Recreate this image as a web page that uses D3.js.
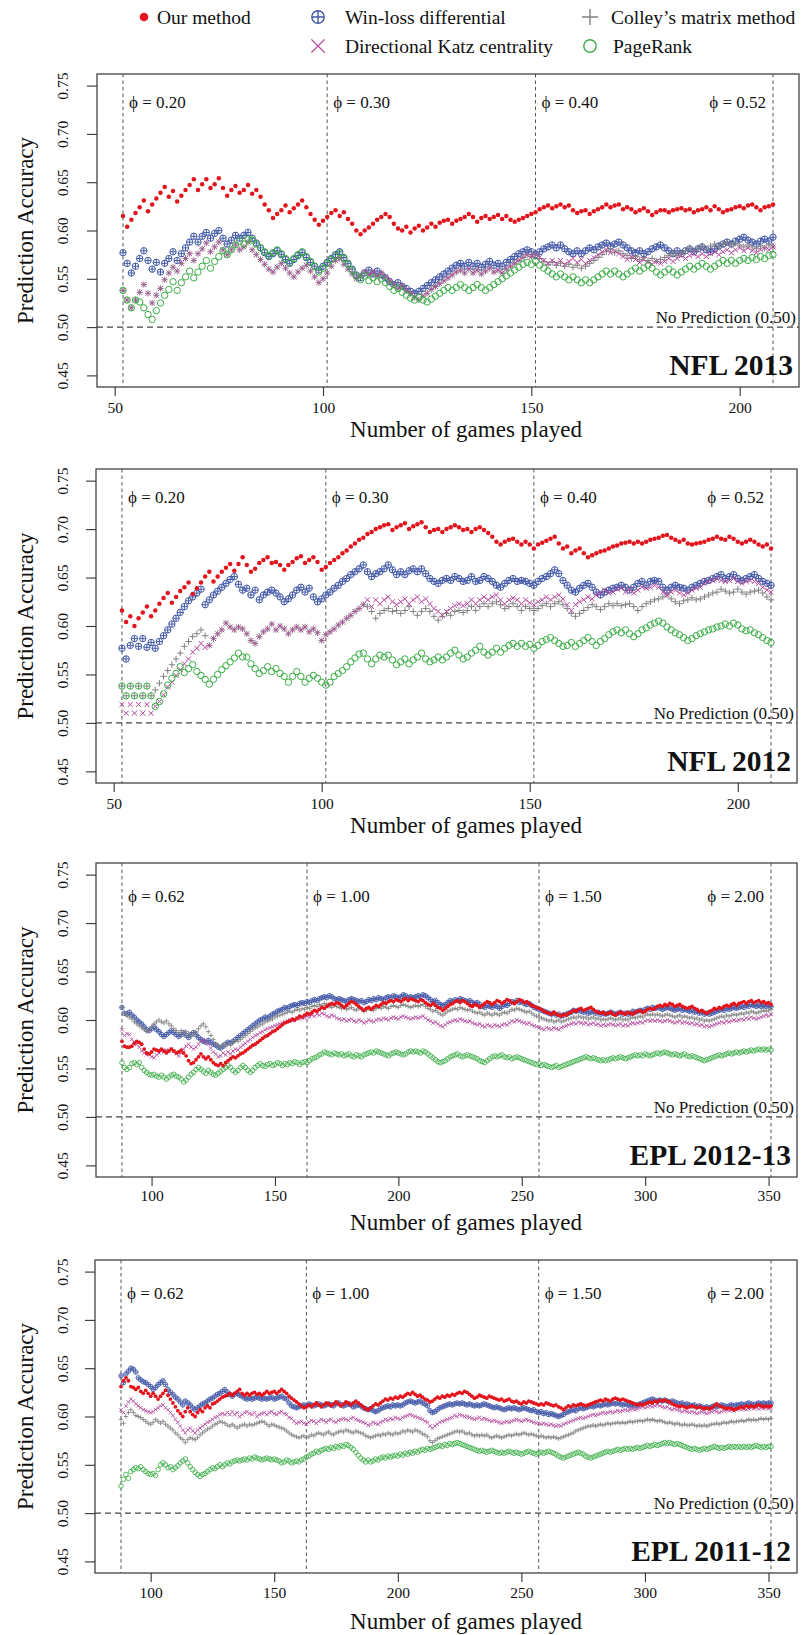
<!DOCTYPE html>
<html><head><meta charset="utf-8">
<script src="https://cdnjs.cloudflare.com/ajax/libs/d3/7.8.5/d3.min.js"></script>
<style>
body{margin:0;background:#fff}
svg{display:block}
text{font-family:"Liberation Serif","Times New Roman",Times,serif;fill:#111}
</style></head>
<body><svg id="c" width="805" height="1635"></svg>
<script>
// ---------- labels & ticks ----------
const methodNames = ["Our method","Win-loss differential","Colley\u2019s matrix method","Directional Katz centrality","PageRank"];
const yTickValues = [0.45,0.50,0.55,0.60,0.65,0.70,0.75];
const nflXTicks = [50,100,150,200];
const eplXTicks = [100,150,200,250,300,350];
const nflPhiGames = [52,101,151,208];
const nflPhiLabels = ["0.20","0.30","0.40","0.52"];
const eplPhiGames = [88,163,257,351];
const eplPhiLabels = ["0.62","1.00","1.50","2.00"];
const panelTitles = ["NFL 2013","NFL 2012","EPL 2012-13","EPL 2011-12"];
const nflFirstGame = 52, nflLastGame = 208;
const eplFirstGame = 88, eplLastGame = 351;

// ---------- NFL 2013 (games 52..208) ----------
const nfl13Our = [
.615,.604,.611,.618,.624,.631,.620,.627,.633,.639,
.645,.635,.641,.630,.636,.642,.647,.653,.642,.648,
.653,.644,.648,.654,.644,.636,.642,.646,.639,.642,
.647,.638,.642,.635,.627,.621,.613,.617,.621,.626,
.619,.623,.627,.631,.624,.617,.611,.606,.610,.614,
.618,.621,.615,.619,.612,.607,.600,.596,.600,.603,
.607,.611,.614,.617,.614,.607,.602,.600,.604,.598,
.602,.605,.600,.603,.607,.604,.608,.610,.611,.607,
.610,.612,.614,.617,.614,.609,.613,.615,.612,.614,
.616,.612,.615,.611,.609,.611,.613,.615,.617,.619,
.622,.624,.626,.623,.625,.627,.624,.626,.621,.618,
.620,.621,.617,.620,.622,.624,.627,.624,.626,.627,
.622,.624,.622,.619,.621,.623,.620,.616,.619,.621,
.621,.619,.621,.622,.623,.621,.622,.619,.621,.622,
.624,.621,.625,.622,.619,.621,.622,.624,.625,.623,
.626,.627,.624,.621,.624,.625,.627];
const nfl13WL = [
.577,.566,.556,.563,.571,.579,.569,.560,.567,.557,
.566,.571,.578,.569,.576,.582,.588,.594,.588,.594,
.598,.592,.597,.600,.592,.586,.590,.595,.592,.595,
.598,.592,.587,.582,.577,.573,.576,.579,.575,.570,
.566,.570,.574,.577,.572,.567,.563,.559,.563,.567,
.571,.575,.578,.572,.566,.560,.554,.551,.556,.559,
.555,.558,.554,.551,.547,.544,.546,.542,.540,.537,
.535,.537,.540,.543,.546,.549,.552,.555,.558,.561,
.564,.566,.563,.567,.563,.566,.562,.565,.568,.564,
.566,.563,.567,.570,.573,.576,.578,.580,.578,.575,
.578,.581,.583,.585,.582,.585,.581,.578,.576,.579,
.576,.579,.582,.580,.583,.585,.587,.584,.586,.588,
.585,.582,.579,.577,.579,.576,.578,.581,.583,.585,
.582,.579,.576,.579,.576,.579,.581,.578,.581,.583,
.580,.578,.581,.584,.586,.588,.586,.589,.591,.593,
.590,.588,.586,.589,.591,.589,.593];
const nfl13Colley = [
.538,.528,.520,.528,.536,.544,.535,.525,.533,.540,
.549,.556,.562,.558,.566,.571,.576,.569,.576,.581,
.587,.578,.583,.588,.580,.575,.580,.585,.580,.583,
.588,.580,.575,.570,.565,.560,.557,.562,.566,.561,
.556,.552,.557,.561,.564,.558,.552,.546,.550,.556,
.563,.569,.571,.565,.560,.555,.550,.553,.557,.554,
.557,.553,.556,.552,.548,.544,.540,.543,.538,.535,
.531,.528,.532,.535,.539,.542,.545,.548,.551,.554,
.557,.559,.556,.560,.556,.559,.555,.558,.561,.557,
.559,.556,.560,.563,.566,.569,.572,.575,.573,.575,
.571,.568,.565,.567,.564,.566,.563,.565,.562,.564,
.561,.563,.566,.569,.572,.575,.578,.580,.577,.579,
.576,.574,.571,.573,.570,.572,.569,.571,.568,.570,
.572,.574,.577,.574,.577,.579,.582,.579,.582,.584,
.581,.584,.586,.583,.586,.588,.585,.587,.585,.583,
.585,.583,.581,.584,.582,.585,.583];
const nfl13Katz = [
.538,.528,.520,.528,.536,.544,.535,.525,.533,.540,
.549,.556,.562,.558,.566,.571,.576,.569,.576,.581,
.587,.578,.583,.588,.580,.575,.580,.585,.580,.583,
.588,.580,.575,.570,.565,.560,.557,.562,.566,.561,
.556,.552,.557,.561,.564,.558,.552,.546,.550,.556,
.563,.569,.571,.565,.560,.555,.550,.553,.557,.554,
.557,.553,.556,.552,.548,.544,.540,.543,.538,.535,
.531,.528,.532,.535,.539,.542,.545,.548,.551,.554,
.557,.559,.556,.560,.556,.559,.555,.558,.561,.557,
.559,.556,.560,.563,.566,.569,.572,.575,.573,.575,
.572,.569,.566,.569,.566,.569,.565,.568,.571,.567,
.570,.566,.569,.572,.575,.578,.580,.577,.579,.576,
.573,.570,.573,.570,.567,.570,.567,.565,.568,.566,
.568,.571,.568,.571,.574,.571,.574,.576,.573,.576,
.573,.576,.578,.575,.578,.580,.577,.580,.582,.579,
.582,.579,.577,.580,.582,.580,.583];
const nfl13PR = [
.538,.528,.520,.528,.526,.520,.513,.508,.517,.525,
.533,.539,.547,.538,.546,.552,.558,.551,.557,.563,
.569,.561,.568,.573,.579,.575,.580,.585,.589,.586,
.591,.590,.586,.582,.578,.574,.577,.580,.576,.571,
.567,.571,.575,.578,.573,.568,.563,.557,.561,.566,
.570,.574,.577,.571,.565,.559,.553,.549,.553,.548,
.551,.547,.550,.546,.542,.538,.540,.536,.533,.530,
.528,.531,.528,.526,.529,.532,.535,.538,.541,.538,
.541,.544,.541,.538,.541,.544,.541,.538,.541,.544,
.547,.550,.553,.556,.559,.562,.565,.567,.565,.568,
.564,.561,.558,.555,.552,.555,.552,.549,.552,.549,
.546,.549,.546,.549,.552,.555,.558,.555,.558,.555,
.552,.555,.558,.561,.558,.561,.564,.561,.557,.554,
.557,.560,.557,.554,.557,.560,.563,.560,.563,.566,
.563,.560,.563,.566,.569,.566,.569,.566,.569,.571,
.569,.572,.570,.573,.571,.574,.575];

// ---------- NFL 2012 (games 52..208) ----------
const nfl12Our = [
.616,.604,.610,.600,.608,.614,.620,.610,.616,.623,
.629,.634,.624,.630,.636,.640,.645,.633,.639,.645,
.651,.656,.646,.651,.656,.660,.664,.657,.664,.671,
.663,.656,.659,.665,.668,.671,.665,.666,.663,.658,
.663,.666,.670,.672,.665,.668,.671,.666,.658,.661,
.665,.668,.671,.675,.678,.682,.685,.689,.691,.695,
.697,.700,.702,.704,.705,.699,.702,.704,.706,.700,
.703,.705,.707,.702,.697,.699,.700,.697,.700,.702,
.704,.702,.699,.700,.697,.700,.702,.699,.696,.692,
.687,.684,.687,.689,.690,.687,.684,.687,.684,.680,
.684,.686,.688,.690,.692,.685,.680,.682,.675,.678,
.680,.675,.671,.673,.675,.677,.678,.680,.682,.683,
.685,.686,.687,.685,.687,.685,.687,.689,.690,.691,
.693,.694,.691,.689,.687,.689,.685,.684,.685,.686,
.687,.689,.690,.692,.690,.689,.692,.690,.687,.685,
.687,.689,.687,.684,.682,.684,.680];
const nfl12WL = [
.577,.566,.580,.587,.579,.587,.578,.583,.577,.584,
.590,.596,.602,.608,.614,.620,.626,.630,.634,.638,
.622,.627,.632,.636,.640,.644,.648,.651,.643,.637,
.639,.632,.637,.627,.632,.635,.637,.634,.630,.625,
.628,.632,.637,.640,.635,.639,.630,.625,.628,.632,
.635,.639,.642,.646,.649,.653,.656,.659,.663,.656,
.651,.654,.656,.659,.663,.658,.653,.656,.653,.657,
.659,.656,.659,.654,.649,.646,.644,.647,.649,.647,
.651,.649,.646,.647,.651,.646,.647,.651,.649,.646,
.642,.640,.644,.647,.649,.646,.647,.646,.644,.642,
.646,.649,.651,.654,.658,.654,.647,.642,.637,.635,
.639,.642,.644,.640,.635,.632,.635,.637,.639,.640,
.642,.640,.637,.640,.644,.646,.642,.646,.647,.646,
.640,.637,.640,.642,.640,.639,.637,.640,.642,.644,
.646,.647,.649,.651,.653,.649,.651,.653,.649,.647,
.649,.651,.653,.649,.646,.644,.642];
const nfl12Colley = [
.538,.528,.538,.528,.538,.528,.538,.528,.534,.541,
.548,.554,.560,.566,.572,.579,.584,.589,.592,.596,
.590,.580,.587,.592,.596,.603,.599,.596,.599,.597,
.592,.585,.582,.589,.594,.597,.602,.596,.600,.597,
.592,.596,.599,.596,.599,.594,.597,.593,.585,.591,
.594,.597,.601,.604,.608,.611,.615,.618,.622,.620,
.615,.608,.613,.616,.618,.615,.616,.613,.616,.620,
.615,.611,.615,.618,.615,.610,.606,.610,.613,.611,
.615,.616,.614,.616,.620,.616,.620,.623,.620,.623,
.625,.622,.618,.620,.623,.620,.616,.620,.618,.616,
.618,.621,.623,.620,.623,.625,.622,.618,.613,.610,
.613,.616,.619,.622,.620,.617,.620,.623,.621,.623,
.621,.622,.623,.620,.616,.620,.623,.625,.627,.628,
.630,.632,.628,.625,.623,.626,.627,.629,.627,.628,
.630,.632,.634,.635,.638,.636,.634,.635,.638,.635,
.633,.635,.636,.637,.634,.630,.627];
const nfl12Katz = [
.519,.510,.519,.510,.519,.510,.519,.510,.517,.522,
.529,.537,.542,.549,.555,.561,.566,.573,.577,.582,
.578,.580,.587,.592,.596,.603,.599,.596,.599,.597,
.592,.585,.582,.589,.594,.597,.602,.596,.600,.597,
.592,.596,.599,.596,.599,.594,.597,.593,.585,.591,
.594,.597,.601,.604,.608,.611,.615,.618,.622,.627,
.620,.627,.623,.627,.630,.625,.622,.625,.628,.623,
.627,.630,.625,.628,.623,.618,.615,.611,.615,.618,
.621,.623,.621,.623,.627,.623,.627,.630,.627,.630,
.632,.627,.623,.627,.629,.627,.623,.627,.624,.622,
.625,.627,.630,.627,.630,.632,.628,.622,.616,.622,
.625,.627,.630,.628,.632,.634,.637,.634,.635,.638,
.639,.635,.638,.634,.637,.640,.639,.640,.642,.640,
.635,.632,.635,.637,.634,.632,.634,.637,.639,.640,
.644,.646,.647,.649,.647,.646,.647,.649,.646,.644,
.646,.647,.646,.644,.640,.637,.635];
const nfl12PR = [
.538,.528,.538,.528,.538,.528,.538,.528,.517,.522,
.530,.539,.546,.551,.558,.552,.556,.560,.553,.549,
.545,.540,.545,.550,.555,.559,.563,.567,.572,.568,
.568,.561,.556,.551,.554,.558,.553,.556,.551,.548,
.542,.548,.553,.548,.542,.546,.549,.546,.542,.539,
.542,.548,.551,.554,.558,.563,.567,.571,.572,.566,
.561,.566,.570,.568,.570,.565,.560,.563,.566,.561,
.565,.568,.572,.566,.563,.565,.568,.565,.568,.572,
.575,.570,.566,.568,.572,.575,.579,.573,.570,.573,
.577,.573,.577,.580,.582,.579,.582,.579,.581,.577,
.580,.584,.586,.588,.585,.582,.579,.580,.583,.579,
.582,.585,.588,.584,.580,.584,.587,.591,.594,.596,
.593,.596,.592,.589,.592,.596,.598,.601,.603,.605,
.603,.599,.596,.593,.591,.588,.585,.587,.590,.592,
.594,.596,.597,.599,.600,.602,.600,.603,.601,.597,
.595,.596,.593,.591,.588,.585,.583];

// ---------- EPL 2012-13 (games 88..351) ----------
const epl13Our = [
.578,.573,.572,.572,.573,.576,.578,.577,.575,.570,
.566,.565,.567,.570,.569,.568,.570,.568,.566,.568,
.570,.568,.566,.567,.569,.566,.563,.558,.555,.556,
.559,.562,.565,.562,.560,.562,.559,.556,.554,.553,
.555,.553,.556,.558,.560,.562,.561,.563,.565,.566,
.568,.570,.572,.574,.575,.577,.579,.581,.583,.584,
.586,.588,.589,.591,.593,.595,.597,.598,.599,.601,
.600,.602,.604,.603,.605,.607,.606,.608,.610,.609,
.611,.613,.612,.614,.616,.617,.616,.618,.617,.615,
.613,.615,.617,.619,.618,.616,.614,.612,.610,.612,
.613,.611,.613,.615,.614,.616,.618,.617,.619,.620,
.619,.621,.620,.619,.621,.622,.620,.622,.621,.620,
.619,.621,.620,.618,.616,.615,.617,.615,.613,.612,
.610,.612,.614,.616,.617,.619,.620,.618,.620,.619,
.617,.615,.614,.616,.615,.613,.615,.617,.619,.618,
.616,.618,.620,.619,.617,.619,.621,.620,.618,.617,
.619,.621,.620,.618,.619,.617,.615,.614,.613,.612,
.611,.609,.608,.607,.606,.608,.606,.605,.604,.606,
.605,.607,.608,.610,.609,.611,.612,.610,.611,.612,
.613,.611,.609,.608,.607,.608,.606,.607,.608,.606,
.605,.607,.608,.607,.606,.608,.607,.606,.608,.609,
.610,.608,.609,.611,.612,.611,.612,.614,.615,.614,
.616,.615,.617,.616,.614,.615,.616,.614,.613,.612,
.613,.614,.612,.611,.609,.610,.608,.607,.609,.610,
.612,.611,.613,.612,.614,.615,.614,.616,.617,.615,
.617,.618,.619,.617,.619,.620,.618,.619,.620,.618,
.619,.617,.618,.616];
const epl13WL = [
.613,.607,.606,.608,.605,.603,.600,.598,.596,.593,
.590,.589,.591,.593,.590,.588,.585,.583,.585,.587,
.589,.587,.585,.583,.585,.587,.584,.582,.585,.587,
.585,.582,.580,.578,.577,.579,.577,.575,.574,.572,
.571,.573,.575,.577,.576,.578,.580,.582,.584,.586,
.588,.590,.592,.594,.596,.598,.600,.601,.603,.602,
.604,.606,.607,.609,.610,.611,.613,.612,.614,.615,
.616,.615,.617,.618,.617,.619,.618,.620,.621,.620,
.622,.623,.624,.623,.625,.624,.622,.621,.622,.621,
.620,.619,.621,.622,.621,.620,.619,.620,.618,.619,
.621,.620,.622,.621,.623,.622,.621,.623,.624,.623,
.625,.624,.623,.624,.626,.625,.623,.624,.623,.624,
.625,.624,.626,.625,.623,.621,.619,.620,.618,.616,
.615,.616,.618,.620,.619,.621,.620,.622,.621,.620,
.619,.620,.618,.617,.618,.616,.614,.613,.615,.614,
.613,.615,.614,.612,.614,.616,.615,.617,.619,.618,
.620,.618,.619,.617,.616,.617,.615,.613,.612,.611,
.610,.609,.608,.607,.606,.607,.605,.606,.604,.605,
.606,.607,.608,.610,.609,.610,.609,.608,.609,.607,
.608,.609,.607,.608,.606,.607,.606,.607,.608,.607,
.606,.607,.608,.606,.607,.606,.607,.609,.608,.609,
.610,.609,.611,.612,.611,.613,.612,.613,.612,.611,
.612,.613,.612,.611,.610,.611,.612,.610,.611,.610,
.609,.610,.608,.609,.607,.608,.606,.607,.606,.607,
.608,.609,.610,.611,.610,.612,.611,.612,.613,.612,
.613,.614,.613,.615,.614,.616,.615,.614,.615,.614,
.615,.614,.615,.614];
const epl13Colley = [
.613,.607,.605,.603,.601,.598,.596,.594,.592,.590,
.588,.590,.593,.596,.598,.600,.598,.597,.599,.596,
.594,.591,.589,.587,.589,.586,.588,.586,.583,.585,
.588,.591,.594,.596,.593,.588,.584,.580,.576,.574,
.572,.575,.573,.576,.574,.577,.579,.578,.580,.582,
.584,.586,.588,.590,.592,.593,.595,.596,.598,.599,
.600,.601,.603,.604,.605,.606,.607,.608,.609,.608,
.610,.611,.610,.612,.611,.613,.612,.614,.615,.614,
.616,.615,.617,.616,.614,.613,.615,.614,.613,.612,
.613,.611,.612,.613,.611,.610,.612,.611,.609,.610,
.612,.611,.610,.612,.613,.612,.614,.613,.612,.614,
.615,.614,.613,.615,.616,.615,.614,.613,.614,.615,
.614,.615,.616,.614,.612,.611,.609,.610,.608,.606,
.605,.607,.609,.610,.611,.612,.611,.613,.612,.611,
.610,.611,.609,.608,.607,.608,.606,.605,.607,.606,
.605,.607,.606,.605,.607,.608,.607,.609,.611,.610,
.612,.611,.610,.609,.608,.609,.607,.605,.604,.603,
.602,.601,.600,.599,.600,.598,.599,.600,.598,.599,
.600,.601,.602,.603,.602,.604,.603,.602,.603,.601,
.602,.603,.601,.602,.600,.601,.600,.601,.602,.601,
.600,.601,.602,.600,.601,.600,.602,.603,.602,.603,
.604,.603,.605,.606,.605,.606,.605,.606,.605,.604,
.605,.606,.605,.604,.603,.604,.605,.603,.604,.603,
.602,.603,.601,.602,.600,.601,.599,.600,.599,.600,
.601,.602,.603,.604,.603,.605,.604,.605,.606,.605,
.606,.607,.606,.608,.607,.609,.608,.607,.608,.609,
.610,.609,.610,.611];
const epl13Katz = [
.590,.584,.586,.585,.580,.577,.575,.572,.568,.566,
.564,.565,.562,.561,.564,.566,.568,.567,.569,.568,
.570,.568,.565,.563,.566,.570,.573,.575,.572,.570,
.572,.575,.578,.580,.578,.575,.571,.567,.565,.562,
.563,.566,.564,.567,.565,.568,.570,.569,.572,.574,
.576,.578,.580,.582,.584,.585,.587,.588,.590,.591,
.592,.593,.594,.595,.596,.597,.598,.599,.600,.599,
.601,.602,.601,.603,.602,.604,.603,.605,.604,.606,
.605,.607,.606,.604,.603,.605,.604,.602,.601,.600,
.601,.599,.600,.601,.599,.598,.600,.599,.597,.598,
.600,.599,.598,.600,.601,.600,.602,.601,.600,.602,
.603,.602,.601,.603,.604,.603,.602,.601,.602,.603,
.602,.603,.604,.602,.600,.599,.597,.598,.596,.594,
.593,.595,.597,.598,.599,.600,.599,.601,.600,.599,
.598,.599,.597,.596,.595,.596,.594,.593,.595,.594,
.593,.595,.594,.593,.595,.596,.595,.597,.599,.598,
.600,.599,.598,.597,.596,.597,.595,.594,.593,.592,
.591,.590,.592,.591,.590,.592,.591,.590,.592,.593,
.594,.595,.596,.597,.596,.598,.597,.596,.597,.595,
.596,.597,.595,.596,.594,.595,.594,.595,.596,.595,
.594,.595,.596,.594,.595,.594,.596,.597,.596,.597,
.598,.597,.599,.600,.599,.600,.599,.600,.599,.598,
.599,.600,.599,.598,.597,.598,.599,.597,.598,.597,
.596,.597,.595,.596,.594,.595,.593,.594,.593,.594,
.595,.596,.597,.598,.597,.599,.598,.599,.600,.599,
.600,.601,.600,.602,.601,.603,.602,.601,.602,.603,
.604,.605,.604,.606];
const epl13PR = [
.556,.551,.549,.551,.555,.556,.554,.556,.551,.548,
.546,.544,.543,.544,.542,.541,.543,.541,.539,.541,
.543,.544,.542,.541,.539,.536,.538,.541,.544,.546,
.549,.551,.549,.547,.545,.548,.546,.544,.543,.545,
.547,.549,.551,.553,.551,.548,.546,.548,.551,.553,
.551,.548,.546,.548,.551,.553,.555,.553,.552,.554,
.555,.553,.554,.556,.555,.553,.555,.554,.556,.555,
.557,.556,.554,.556,.557,.556,.558,.560,.561,.562,
.564,.565,.567,.566,.565,.564,.566,.565,.564,.565,
.563,.564,.565,.563,.562,.564,.563,.562,.564,.565,
.566,.567,.566,.568,.567,.566,.565,.564,.563,.565,
.566,.567,.566,.565,.564,.565,.567,.568,.567,.568,
.567,.566,.568,.567,.565,.563,.561,.559,.557,.556,
.557,.558,.560,.562,.563,.564,.565,.563,.562,.563,
.564,.563,.562,.561,.560,.558,.557,.556,.558,.560,
.562,.563,.562,.563,.564,.562,.561,.562,.560,.561,
.562,.561,.560,.559,.558,.557,.556,.555,.554,.555,
.553,.554,.553,.552,.551,.552,.553,.551,.552,.553,
.554,.555,.556,.557,.558,.559,.560,.561,.562,.561,
.560,.561,.560,.559,.558,.559,.558,.559,.560,.561,
.560,.561,.562,.561,.560,.561,.562,.563,.564,.563,
.564,.563,.565,.564,.563,.564,.565,.566,.565,.566,
.567,.566,.565,.564,.565,.564,.563,.564,.565,.563,
.562,.563,.562,.561,.560,.559,.558,.559,.560,.561,
.562,.563,.564,.563,.564,.565,.566,.565,.566,.567,
.566,.567,.568,.567,.568,.569,.568,.569,.570,.569,
.570,.569,.570,.569];

// ---------- EPL 2011-12 (games 88..351) ----------
const epl12Our = [
.631,.637,.640,.637,.631,.630,.628,.630,.626,.624,
.627,.624,.621,.624,.621,.618,.621,.624,.627,.622,
.618,.614,.610,.606,.603,.600,.605,.609,.605,.602,
.600,.604,.607,.605,.609,.611,.609,.613,.614,.616,
.618,.620,.621,.622,.624,.622,.624,.626,.628,.624,
.622,.624,.622,.624,.625,.623,.624,.622,.624,.626,
.624,.625,.626,.624,.626,.628,.626,.624,.621,.619,
.617,.615,.613,.611,.609,.610,.612,.610,.612,.614,
.612,.610,.612,.614,.613,.611,.613,.615,.613,.611,
.613,.615,.614,.612,.614,.616,.614,.612,.610,.608,
.607,.609,.611,.613,.612,.614,.616,.618,.617,.619,
.618,.620,.619,.621,.620,.622,.624,.623,.625,.623,
.621,.622,.620,.618,.617,.615,.616,.618,.620,.619,
.621,.620,.622,.621,.623,.622,.624,.625,.624,.626,
.625,.623,.621,.619,.620,.622,.621,.620,.619,.621,
.620,.619,.618,.617,.618,.616,.617,.618,.616,.615,
.616,.614,.613,.615,.614,.616,.615,.614,.613,.612,
.613,.612,.614,.613,.612,.611,.612,.610,.609,.607,
.609,.611,.610,.612,.611,.612,.613,.612,.611,.612,
.613,.614,.615,.616,.617,.616,.618,.617,.616,.618,
.619,.618,.617,.618,.617,.616,.615,.614,.613,.612,
.613,.612,.613,.614,.615,.614,.616,.615,.617,.616,
.617,.616,.615,.613,.612,.611,.610,.611,.610,.609,
.610,.611,.610,.609,.610,.609,.608,.609,.608,.609,
.611,.613,.611,.610,.609,.608,.609,.608,.607,.608,
.609,.610,.609,.611,.610,.611,.610,.611,.612,.611,
.610,.611,.610,.611];
const epl12WL = [
.642,.635,.644,.647,.650,.649,.646,.640,.638,.636,
.635,.633,.631,.628,.630,.633,.635,.637,.633,.628,
.625,.623,.620,.618,.615,.612,.616,.614,.612,.609,
.607,.609,.611,.613,.614,.616,.618,.619,.621,.623,
.624,.626,.628,.625,.623,.621,.623,.624,.622,.621,
.619,.618,.619,.618,.619,.620,.619,.618,.619,.618,
.619,.620,.618,.619,.620,.621,.619,.618,.614,.611,
.610,.609,.610,.611,.612,.611,.613,.612,.611,.612,
.613,.612,.611,.612,.613,.612,.611,.613,.614,.612,
.611,.612,.613,.612,.610,.611,.612,.611,.609,.608,
.607,.608,.606,.605,.606,.608,.609,.610,.611,.610,
.612,.611,.612,.611,.612,.614,.615,.616,.615,.614,
.615,.616,.614,.613,.611,.606,.604,.605,.607,.609,
.610,.611,.612,.613,.612,.613,.614,.613,.614,.613,
.612,.613,.612,.611,.612,.611,.612,.613,.612,.611,
.610,.609,.610,.609,.608,.607,.608,.609,.608,.609,
.608,.607,.608,.609,.608,.607,.606,.607,.605,.604,
.605,.603,.604,.602,.603,.602,.601,.600,.601,.602,
.604,.605,.606,.607,.606,.608,.609,.608,.609,.610,
.611,.610,.611,.612,.611,.612,.613,.612,.613,.614,
.613,.614,.613,.612,.613,.612,.611,.612,.611,.612,
.613,.614,.615,.616,.617,.618,.617,.616,.617,.616,
.617,.616,.615,.616,.615,.614,.613,.614,.612,.613,
.612,.611,.612,.610,.611,.610,.609,.610,.609,.610,
.611,.610,.611,.612,.611,.610,.611,.612,.611,.612,
.612,.613,.612,.613,.614,.613,.612,.613,.614,.613,
.614,.613,.614,.614];
const epl12Colley = [
.597,.593,.600,.604,.607,.604,.601,.600,.599,.597,
.595,.593,.592,.594,.597,.595,.593,.595,.592,.590,
.588,.586,.583,.581,.578,.576,.573,.576,.578,.577,
.576,.578,.581,.583,.585,.587,.588,.590,.592,.593,
.595,.594,.593,.591,.590,.592,.590,.588,.590,.591,
.592,.590,.592,.591,.592,.593,.594,.595,.594,.592,
.590,.592,.591,.590,.589,.588,.587,.585,.583,.581,
.580,.579,.578,.579,.580,.578,.579,.581,.580,.582,
.583,.582,.581,.583,.584,.582,.581,.583,.584,.585,
.584,.586,.585,.584,.583,.585,.584,.583,.582,.580,
.579,.578,.579,.580,.581,.580,.582,.581,.583,.582,
.581,.583,.582,.583,.585,.584,.586,.585,.584,.586,
.585,.584,.582,.581,.579,.575,.573,.575,.577,.578,
.579,.580,.581,.582,.583,.584,.585,.584,.585,.583,
.582,.583,.581,.580,.581,.580,.581,.580,.581,.579,
.578,.579,.580,.579,.578,.579,.580,.581,.580,.581,
.582,.581,.582,.583,.582,.581,.582,.581,.580,.579,
.580,.579,.578,.579,.578,.579,.578,.577,.578,.579,
.580,.581,.582,.583,.585,.586,.587,.588,.589,.590,
.590,.591,.590,.591,.592,.591,.592,.593,.592,.593,
.593,.594,.593,.594,.593,.594,.595,.594,.595,.595,
.596,.595,.596,.597,.596,.597,.596,.595,.596,.595,
.594,.593,.594,.593,.592,.593,.592,.591,.592,.591,
.591,.592,.591,.590,.591,.590,.591,.590,.591,.592,
.592,.593,.592,.593,.594,.593,.594,.595,.594,.595,
.595,.596,.595,.596,.597,.596,.597,.596,.597,.598,
.597,.598,.597,.598];
const epl12Katz = [
.607,.604,.611,.615,.618,.616,.613,.611,.609,.607,
.606,.605,.604,.605,.607,.609,.611,.612,.609,.607,
.604,.601,.597,.594,.590,.586,.583,.586,.588,.585,
.583,.586,.588,.590,.592,.594,.595,.597,.599,.600,
.602,.603,.602,.604,.602,.605,.602,.604,.600,.602,
.604,.605,.603,.602,.604,.600,.602,.603,.604,.602,
.604,.605,.603,.602,.604,.605,.603,.602,.599,.598,
.595,.593,.594,.595,.593,.592,.594,.596,.595,.593,
.595,.597,.596,.594,.596,.597,.595,.594,.596,.597,
.598,.597,.596,.598,.599,.597,.596,.595,.594,.593,
.591,.592,.594,.593,.592,.594,.595,.597,.596,.598,
.597,.599,.598,.597,.599,.600,.601,.602,.601,.600,
.599,.598,.597,.595,.594,.590,.588,.590,.592,.594,
.595,.596,.597,.598,.599,.601,.600,.602,.601,.600,
.600,.599,.598,.597,.598,.599,.597,.598,.597,.596,
.595,.596,.595,.594,.593,.594,.595,.594,.595,.596,
.597,.596,.595,.596,.597,.596,.595,.594,.593,.593,
.592,.593,.592,.591,.592,.591,.590,.591,.590,.592,
.593,.594,.595,.596,.597,.598,.599,.598,.599,.600,
.601,.602,.601,.602,.603,.604,.603,.604,.605,.604,
.605,.606,.605,.606,.607,.606,.607,.608,.607,.608,
.609,.610,.609,.610,.611,.610,.611,.612,.611,.610,
.609,.610,.608,.607,.608,.607,.606,.605,.606,.605,
.604,.605,.604,.603,.604,.605,.604,.603,.604,.605,
.606,.605,.604,.605,.606,.607,.606,.607,.606,.607,
.608,.607,.608,.607,.608,.609,.608,.609,.608,.609,
.608,.609,.608,.609];
const epl12PR = [
.528,.535,.540,.536,.543,.545,.547,.546,.548,.545,
.543,.541,.540,.541,.539,.545,.550,.552,.550,.547,
.548,.545,.547,.549,.552,.554,.556,.552,.548,.545,
.542,.540,.538,.540,.541,.543,.545,.547,.546,.548,
.550,.548,.550,.552,.551,.553,.554,.555,.554,.555,
.556,.555,.557,.556,.558,.557,.556,.555,.556,.557,
.556,.555,.556,.555,.554,.552,.553,.555,.554,.552,
.553,.554,.553,.555,.556,.558,.559,.561,.562,.564,
.563,.565,.566,.567,.566,.568,.567,.569,.568,.570,
.569,.571,.570,.568,.566,.563,.560,.557,.555,.553,
.555,.553,.554,.556,.555,.557,.558,.557,.559,.558,
.559,.560,.559,.561,.560,.562,.561,.563,.562,.564,
.563,.565,.566,.565,.567,.566,.567,.568,.569,.570,
.569,.571,.570,.572,.571,.572,.573,.572,.571,.570,
.569,.568,.567,.566,.565,.564,.565,.564,.563,.564,
.565,.564,.563,.562,.563,.562,.563,.564,.563,.562,
.563,.562,.561,.562,.563,.564,.563,.562,.561,.562,
.563,.562,.563,.564,.563,.562,.561,.559,.558,.557,
.558,.559,.560,.561,.562,.563,.562,.561,.559,.558,
.557,.558,.559,.560,.561,.562,.563,.564,.563,.564,
.565,.566,.565,.566,.567,.566,.567,.566,.567,.568,
.567,.568,.569,.570,.569,.570,.571,.570,.571,.572,
.573,.572,.573,.572,.571,.572,.571,.570,.569,.568,
.567,.566,.567,.566,.565,.566,.567,.566,.567,.568,
.569,.568,.567,.568,.567,.568,.569,.568,.569,.568,
.569,.568,.569,.568,.569,.568,.569,.570,.569,.568,
.569,.568,.569,.569];

// ---------- drawing ----------
const FONT = "'Liberation Serif','Times New Roman',Times,serif";
const colors = {our:"#e2141c", wl:"#4258a8", colley:"#808080", katz:"#b2459c", pr:"#3bae47"};
const svg = d3.select("#c");

function markerPath(type, r){
  if(type==="plus") return `M${-r},0H${r}M0,${-r}V${r}`;
  if(type==="cross"){const a=r*0.78;return `M${-a},${-a}L${a},${a}M${-a},${a}L${a},${-a}`;}
  if(type==="circle") return `M${r},0A${r},${r} 0 1,1 ${-r},0A${r},${r} 0 1,1 ${r},0Z`;
  if(type==="oplus") return `M${r},0A${r},${r} 0 1,1 ${-r},0A${r},${r} 0 1,1 ${r},0ZM${-r},0H${r}M0,${-r}V${r}`;
  return "";
}

const panels = [
 {title:panelTitles[0], first:nflFirstGame, last:nflLastGame, ticks:nflXTicks, phiG:nflPhiGames, phiL:nflPhiLabels,
  l:97,r:799,t:74,b:387, size:3.2, dot:2.25, tickY:413, labY:437,
  s:{our:nfl13Our, wl:nfl13WL, colley:nfl13Colley, katz:nfl13Katz, pr:nfl13PR}},
 {title:panelTitles[1], first:nflFirstGame, last:nflLastGame, ticks:nflXTicks, phiG:nflPhiGames, phiL:nflPhiLabels,
  l:96,r:797,t:469,b:783, size:3.2, dot:2.25, tickY:809, labY:833,
  s:{our:nfl12Our, wl:nfl12WL, colley:nfl12Colley, katz:nfl12Katz, pr:nfl12PR}},
 {title:panelTitles[2], first:eplFirstGame, last:eplLastGame, ticks:eplXTicks, phiG:eplPhiGames, phiL:eplPhiLabels,
  l:96,r:797,t:863,b:1177, size:2.3, dot:1.9, tickY:1201, labY:1230,
  s:{our:epl13Our, wl:epl13WL, colley:epl13Colley, katz:epl13Katz, pr:epl13PR}},
 {title:panelTitles[3], first:eplFirstGame, last:eplLastGame, ticks:eplXTicks, phiG:eplPhiGames, phiL:eplPhiLabels,
  l:95,r:797,t:1260,b:1573, size:2.3, dot:1.9, tickY:1598, labY:1629,
  s:{our:epl12Our, wl:epl12WL, colley:epl12Colley, katz:epl12Katz, pr:epl12PR}}
];

panels.forEach((p,pi)=>{
  const span = p.last - p.first;
  const x = d3.scaleLinear().domain([p.first - span*0.04, p.last + span*0.04]).range([p.l, p.r]);
  const y = d3.scaleLinear().domain([0.438, 0.762]).range([p.b, p.t]);
  const g = svg.append("g");

  g.selectAll("line.v").data(p.phiG).join("line")
    .attr("x1",d=>x(d)).attr("x2",d=>x(d)).attr("y1",p.t).attr("y2",p.b)
    .attr("stroke","#555").attr("stroke-width",1).attr("stroke-dasharray","3.5,3");
  g.append("line").attr("x1",p.l).attr("x2",p.r).attr("y1",y(0.5)).attr("y2",y(0.5))
    .attr("stroke","#444").attr("stroke-width",1.3).attr("stroke-dasharray","6,4");

  const order = [
    {k:"wl", type:"oplus"}, {k:"colley", type:"plus"}, {k:"katz", type:"cross"},
    {k:"pr", type:"circle"}, {k:"our", type:"dot"}];
  order.forEach(o=>{
    const vals = p.s[o.k];
    const pts = vals.map((v,i)=>({g:p.first+i, v}));
    const sg = g.append("g");
    if(o.type==="dot"){
      sg.selectAll("circle").data(pts).join("circle")
        .attr("cx",d=>x(d.g)).attr("cy",d=>y(d.v)).attr("r",p.dot).attr("fill",colors.our);
    } else {
      const path = markerPath(o.type, p.size);
      sg.selectAll("path").data(pts).join("path")
        .attr("d",path).attr("transform",d=>`translate(${x(d.g)},${y(d.v)})`)
        .attr("fill","none").attr("stroke",colors[o.k]).attr("stroke-width",p.size>3?1:0.85);
    }
  });

  g.append("rect").attr("x",p.l).attr("y",p.t).attr("width",p.r-p.l).attr("height",p.b-p.t)
    .attr("fill","none").attr("stroke","#444").attr("stroke-width",1.3);

  const ya = g.append("g").attr("transform",`translate(${p.l},0)`)
    .call(d3.axisLeft(y).tickValues(yTickValues).tickFormat(d3.format(".2f")).tickSize(10).tickPadding(0));
  ya.attr("font-family",null).attr("font-size",null);
  ya.select(".domain").remove();
  ya.selectAll(".tick line").attr("stroke","#333").attr("stroke-width",1.1);
  ya.selectAll(".tick text").attr("x",null).attr("dy",null)
    .attr("transform",`translate(${63-p.l+5},0) rotate(-90)`).attr("text-anchor","middle")
    .style("font-size","15.5px").attr("fill","#111");

  const xa = g.append("g").attr("transform",`translate(0,${p.b})`)
    .call(d3.axisBottom(x).tickValues(p.ticks).tickSize(9).tickPadding(0));
  xa.attr("font-family",null).attr("font-size",null);
  xa.select(".domain").remove();
  xa.selectAll(".tick line").attr("stroke","#333").attr("stroke-width",1.1);
  xa.selectAll(".tick text").attr("y",p.tickY-p.b).attr("dy",null)
    .style("font-size","15.5px").attr("fill","#111");

  g.append("text").attr("x",466).attr("y",p.labY).attr("text-anchor","middle")
    .style("font-size","23px").text("Number of games played");
  g.append("text").attr("transform",`translate(33,${(p.t+p.b)/2}) rotate(-90)`).attr("text-anchor","middle")
    .style("font-size","23px").text("Prediction Accuracy");

  const phiBase = p.t + (pi<2 ? 34 : 39);
  p.phiG.forEach((gv,i)=>{
    const last = i===p.phiG.length-1;
    g.append("text").attr("x", last ? x(gv)-7 : x(gv)+6).attr("y",phiBase)
      .attr("text-anchor", last ? "end" : "start").style("font-size","17px")
      .text("\u03D5 = " + p.phiL[i]);
  });

  g.append("text").attr("x",p.r-3).attr("y",y(0.5)-4).attr("text-anchor","end")
    .style("font-size","17px").text("No Prediction (0.50)");

  g.append("text").attr("x",p.r-6).attr("y",p.b-12).attr("text-anchor","end")
    .style("font-size","29.5px").style("font-weight","bold").text(p.title);
});

// ---------- legend ----------
const legendItems = [
  {name:methodNames[0], type:"dot",    key:"our",    sx:144, tx:157, yy:17},
  {name:methodNames[1], type:"oplus",  key:"wl",     sx:318, tx:345, yy:17},
  {name:methodNames[2], type:"plus",   key:"colley", sx:590, tx:611, yy:17},
  {name:methodNames[3], type:"cross",  key:"katz",   sx:318, tx:345, yy:46},
  {name:methodNames[4], type:"circle", key:"pr",     sx:590, tx:613, yy:46}
];
const lg = svg.append("g");
legendItems.forEach(it=>{
  if(it.type==="dot"){
    lg.append("circle").attr("cx",it.sx).attr("cy",it.yy).attr("r",4.3).attr("fill",colors.our);
  } else {
    const rr = it.type==="plus" ? 8 : (it.type==="cross" ? 8.5 : 6.2);
    lg.append("path").attr("d",markerPath(it.type, rr)).attr("transform",`translate(${it.sx},${it.yy})`)
      .attr("fill","none").attr("stroke",colors[it.key]).attr("stroke-width",1.4);
  }
  lg.append("text").attr("x",it.tx).attr("y",it.yy+6.5).style("font-size","19.5px").text(it.name);
});

svg.selectAll("text").style("font-family", FONT);
</script></body></html>
